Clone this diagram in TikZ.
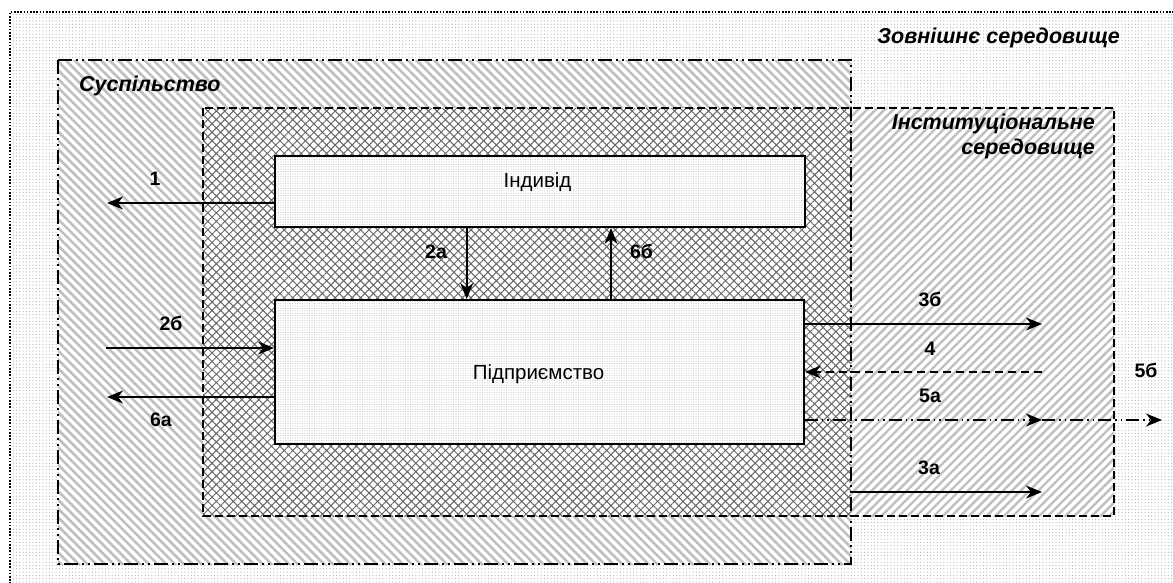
\documentclass[tikz,border=0pt]{standalone}
\usepackage{fontspec}
\setmainfont{Liberation Sans}
\usetikzlibrary{patterns.meta,arrows.meta}
\begin{document}
\begin{tikzpicture}[x=1pt,y=-1pt,
  ttl/.style={font=\fontsize{21.5}{25}\selectfont\bfseries\itshape, inner sep=0pt},
  lbl/.style={font=\fontsize{19.5}{22}\selectfont\bfseries, inner sep=0pt},
  boxtxt/.style={font=\fontsize{20.5}{24}\selectfont, inner sep=0pt},
  unitbox/.style={draw, line width=1.9pt, inner sep=0pt,
    preaction={fill=white},
    pattern={Dots[distance=2.4pt,radius=0.55pt]}, pattern color=gray!45},
  flow/.style={line width=1.8pt,-{Stealth[length=16pt,width=13pt,inset=5pt]}},
  dashflow/.style={flow, dash pattern=on 8pt off 5pt},
  ddflow/.style={flow, dash pattern=on 13pt off 4pt on 1.5pt off 4pt on 1.5pt off 4pt},
  socborder/.style={line width=2pt, dash pattern=on 14pt off 4pt on 2pt off 4pt on 2pt off 4pt},
  instborder/.style={line width=2pt, dash pattern=on 8pt off 4pt},
]
\useasboundingbox (0,0) rectangle (1173,582);
\clip (0,0) rectangle (1173,582);
\fill[white] (0,0) rectangle (1173,582);
% external environment
\fill[pattern={Dots[distance=3.3pt,radius=0.6pt]}, pattern color=gray!60] (10,12) rectangle (1200,600);
\draw[line width=2.2pt, dash pattern=on 1.6pt off 1.6pt] (10,600) -- (10,12) -- (1200,12);
% society
\fill[white] (58,60) rectangle (851,564);
\fill[pattern={Lines[angle=-45,distance=6.2pt,line width=2.6pt]}, pattern color=gray!50] (58,60) rectangle (851,564);
% institutional environment
\fill[white] (203,108) rectangle (1114,516);
\fill[pattern={Lines[angle=45,distance=6.2pt,line width=2.4pt]}, pattern color=gray!50] (851,108) rectangle (1114,516);
\fill[pattern={Hatch[angle=45,distance=6pt,line width=1pt]}, pattern color=gray!80!black] (203,108) rectangle (851,516);
\draw[instborder] (203,108) rectangle (1114,516);
\draw[socborder] (58,60) rectangle (851,564);
% titles
\node[ttl, anchor=base east] (ext) at (1120,43) {Зовнішнє середовище};
\node[ttl, anchor=base west] (soc) at (79,91) {Суспільство};
\node[ttl, anchor=base east] (inst1) at (1095,129) {Інституціональне};
\node[ttl, anchor=base east] (inst2) at (1095,154) {середовище};
% boxes
\node[unitbox, minimum width=530pt, minimum height=71pt] (ind) at (540,191.5) {};
\node[boxtxt, anchor=base] (indt) at (537.5,187) {Індивід};
\node[unitbox, minimum width=529pt, minimum height=144pt] (pid) at (539.5,372) {};
\node[boxtxt, anchor=base] (pidt) at (538.5,379.5) {Підприємство};
% coordinates
\coordinate (e1) at (107,203);
\coordinate (s2b) at (106,348);
\coordinate (e6a) at (107,397);
\coordinate (x2a) at (466.7,260);
\coordinate (x6b) at (611,260);
\coordinate (e3b) at (1042,324);
\coordinate (s4) at (1042,372);
\coordinate (e5a) at (1042,420);
\coordinate (e5b) at (1162,420);
\coordinate (s3a) at (851,492);
\coordinate (e3a) at (1042,492);
% arrows
\draw[flow] (ind.west |- e1) -- (e1);
\draw[flow] (s2b) -- (pid.west |- s2b);
\draw[flow] (pid.west |- e6a) -- (e6a);
\draw[flow] (ind.south -| x2a) -- (pid.north -| x2a);
\draw[flow] (pid.north -| x6b) -- (ind.south -| x6b);
\draw[flow] (pid.east |- e3b) -- (e3b);
\draw[dashflow] (s4) -- (pid.east |- s4);
\draw[ddflow] (pid.east |- e5a) -- (e5a);
\draw[ddflow] (e5a) -- (e5b);
\draw[flow] (s3a) -- (e3a);
% labels
\node[lbl] (l1) at (155,179) {1};
\node[lbl] (l2a) at (436,251.5) {2а};
\node[lbl] (l6b) at (641.5,251) {6б};
\node[lbl] (l2b) at (171,323) {2б};
\node[lbl] (l6a) at (161,420) {6а};
\node[lbl] (l3b) at (930,299.5) {3б};
\node[lbl] (l4) at (930,348.5) {4};
\node[lbl] (l5a) at (930,396) {5а};
\node[lbl] (l3a) at (929,467.5) {3а};
\node[lbl] (l5b) at (1146,370.5) {5б};
\end{tikzpicture}
\end{document}
